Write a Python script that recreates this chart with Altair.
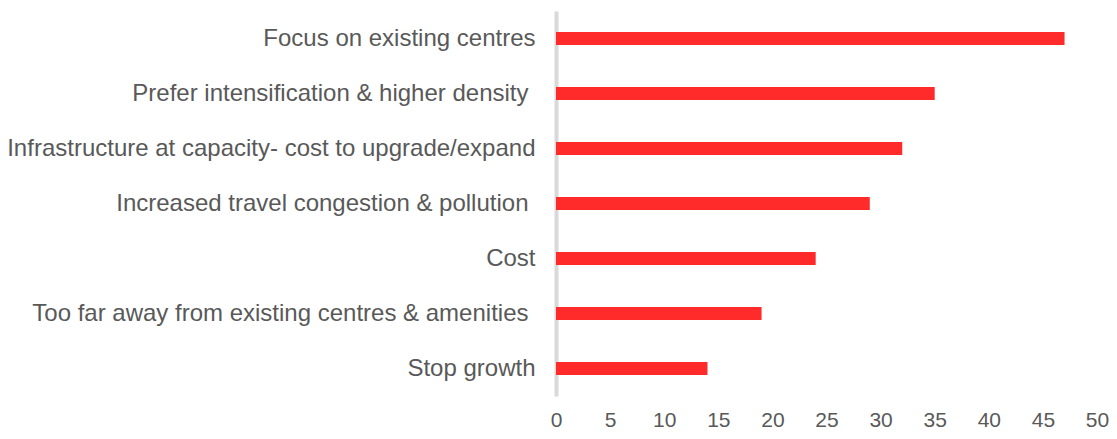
import altair as alt
import pandas as pd

categories = [
    "Focus on existing centres",
    "Prefer intensification & higher density",
    "Infrastructure at capacity- cost to upgrade/expand",
    "Increased travel congestion & pollution",
    "Cost",
    "Too far away from existing centres & amenities",
    "Stop growth",
]
values = [47, 35, 32, 29, 24, 19, 14]
x_ticks = [0, 5, 10, 15, 20, 25, 30, 35, 40, 45, 50]

df = pd.DataFrame({"reason": categories, "count": values})

chart = alt.Chart(df).mark_bar(size=13, color="#FF2A2A").encode(
    x=alt.X("count:Q",
            scale=alt.Scale(domain=[0, 50], nice=False),
            axis=alt.Axis(values=x_ticks, title=None, grid=False, domain=False,
                          ticks=False, labelPadding=13, labelFontSize=21,
                          labelFlush=False, labelBaseline="top",
                          labelColor="#595959", labelFont="Liberation Sans")),
    y=alt.Y("reason:N", sort=categories,
            scale=alt.Scale(paddingInner=0, paddingOuter=0),
            axis=alt.Axis(title=None, ticks=False, domain=True, domainColor="#D9D9D9",
                          domainWidth=4,
                          labelPadding=alt.ExprRef(
                              "test(/density|pollution|amenities/, datum.label) ? 28 : 21"),
                          labelFontSize=24,
                          labelColor="#595959", labelFont="Liberation Sans",
                          labelLimit=0)),
).properties(
    width=541, height=385,
    autosize=alt.AutoSizeParams(type="none"),
    padding={"left": 548, "top": 3, "right": 12, "bottom": 34},
).configure_view(stroke=None)

chart.save("out.html", embed_options={"renderer": "svg", "actions": False})
